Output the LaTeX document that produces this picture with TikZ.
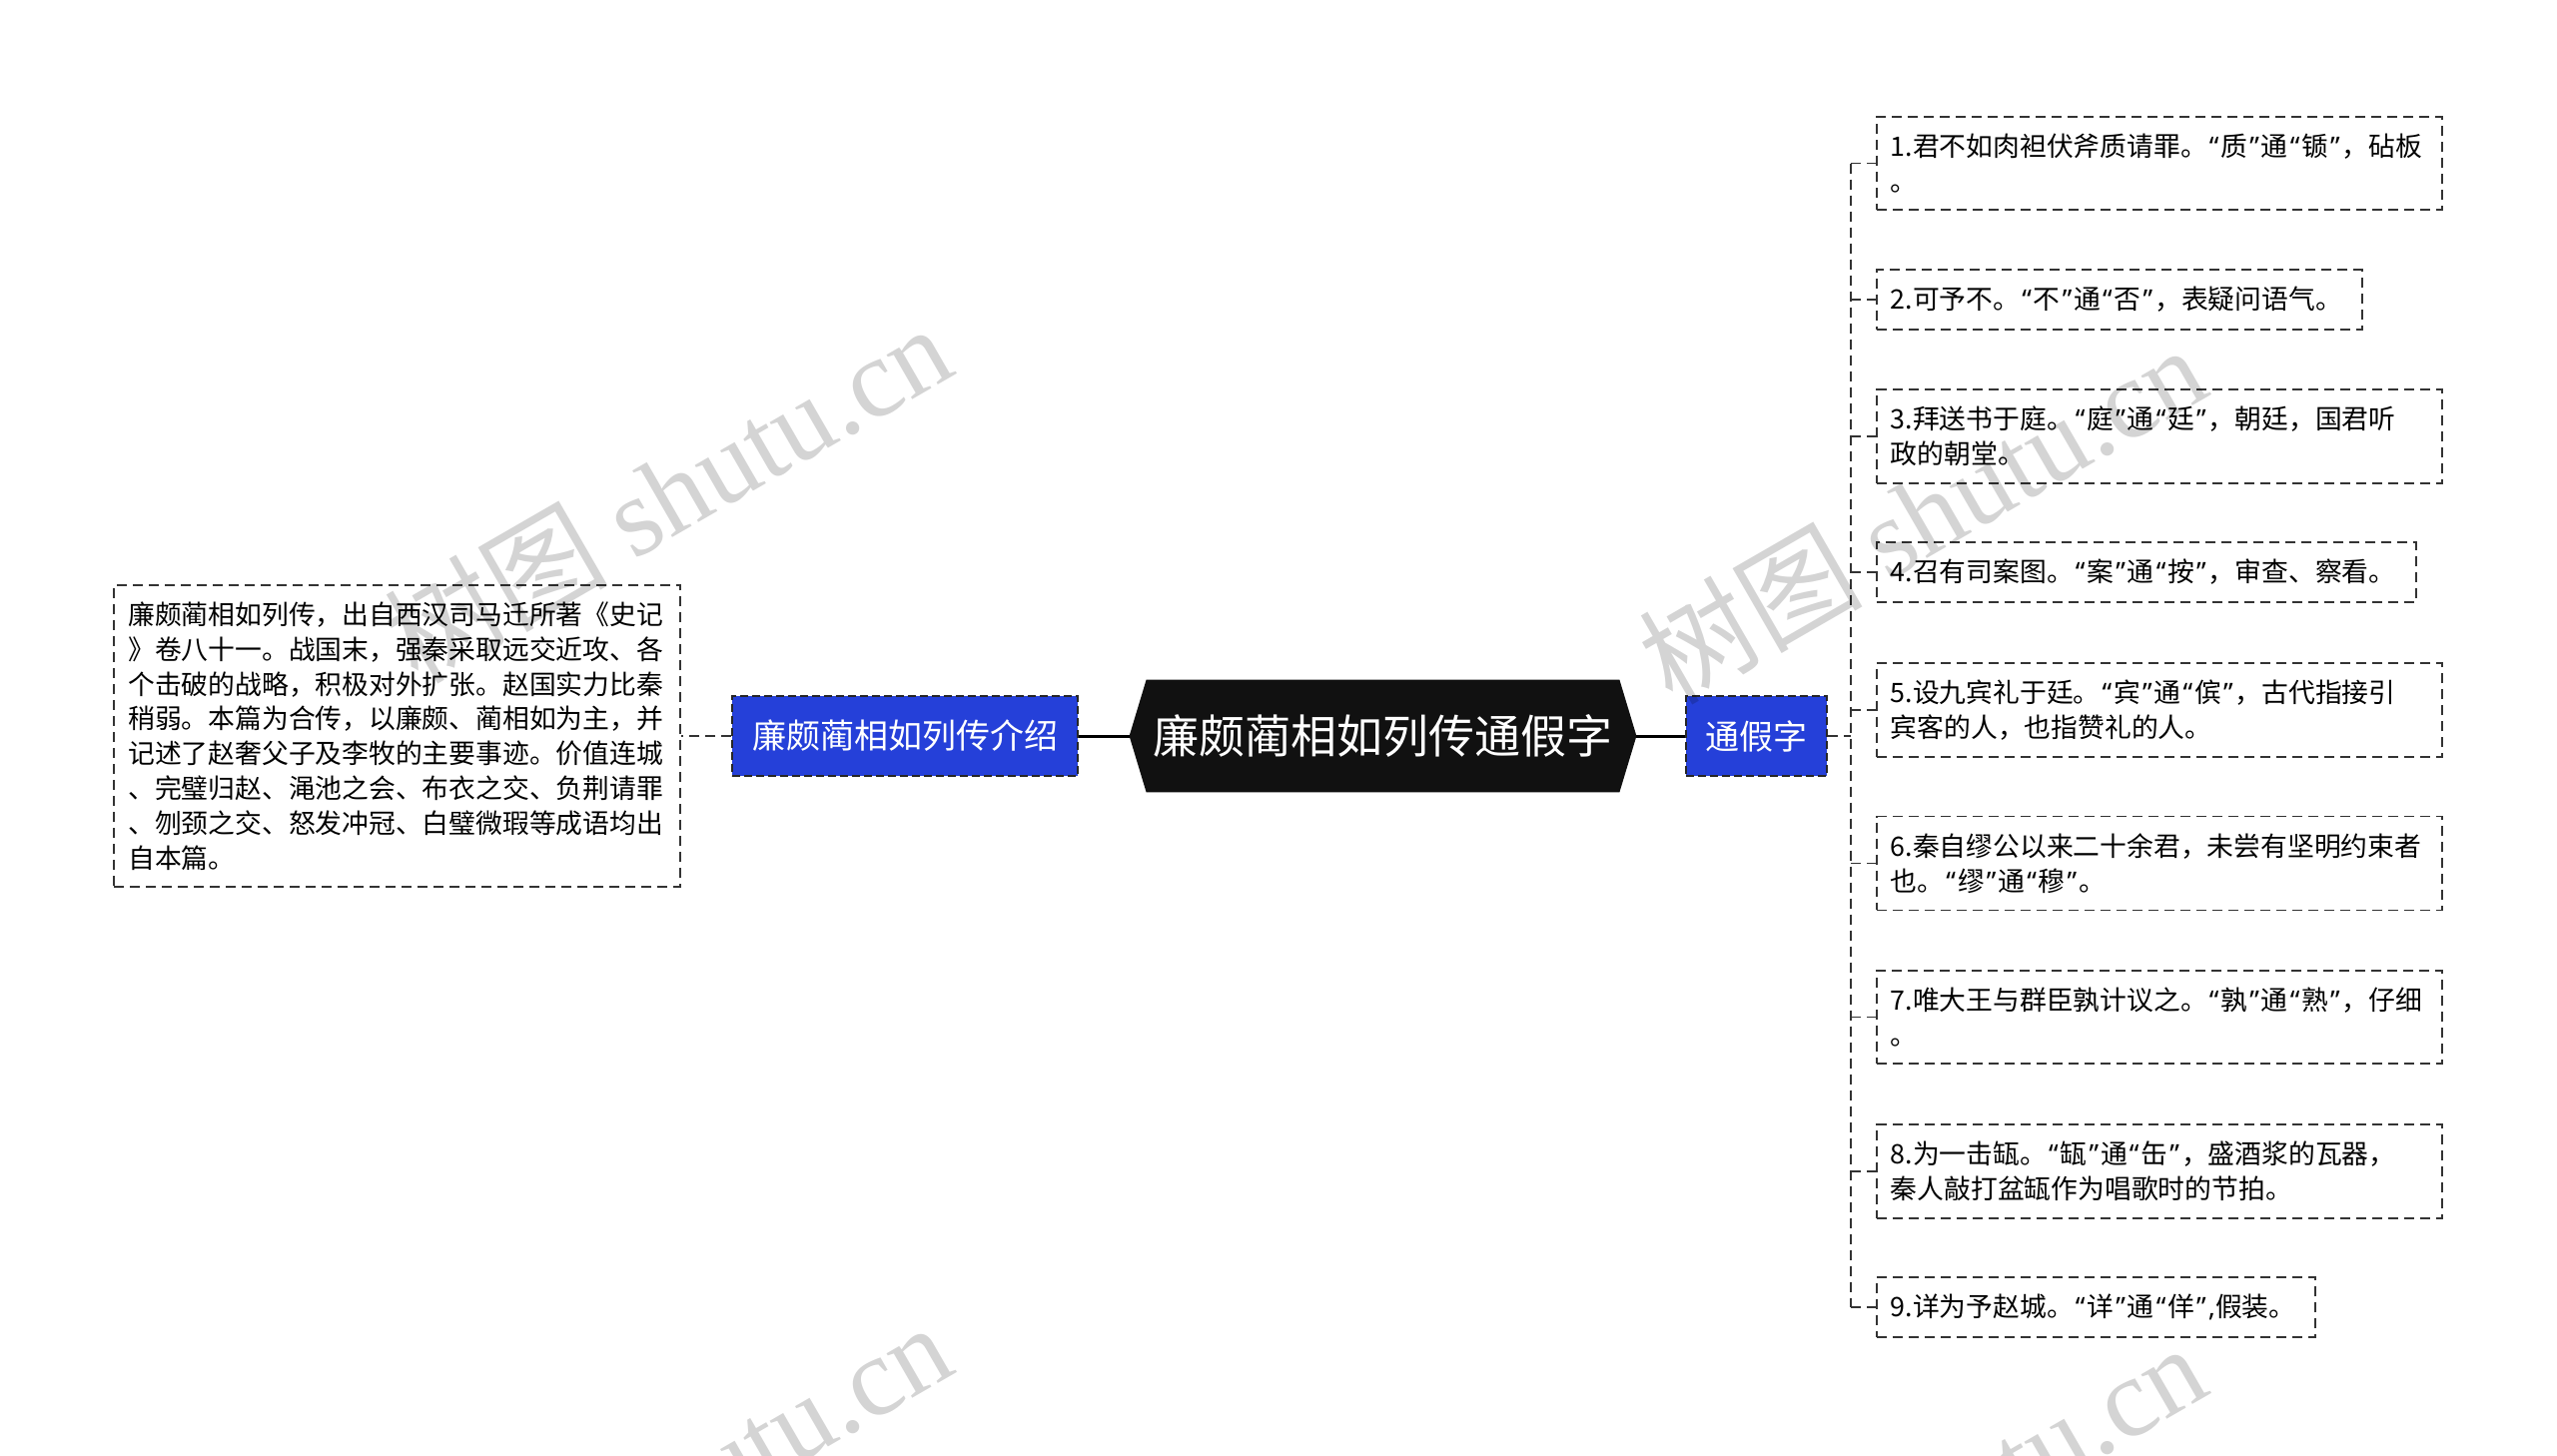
\documentclass[tikz,border=0pt]{standalone}
\usepackage{fontspec}
\setmainfont{Noto Sans CJK SC}
\newfontfamily\qfont{Noto Sans}
\newfontfamily\wmlatin{Liberation Serif}
\usetikzlibrary{calc,backgrounds}
\newcommand\myoq{{\qfont\kern1pt “\kern1pt}}
\newcommand\mycq{{\qfont\kern1pt ”\kern1pt}}
\definecolor{bluebox}{RGB}{37,64,217}
\definecolor{dashc}{RGB}{51,51,51}
\definecolor{centerc}{RGB}{17,17,17}
\begin{document}
\begin{tikzpicture}[x=0.5pt,y=-0.5pt,
  textbox/.style={draw=dashc, line width=0.8pt, dash pattern=on 5pt off 3pt, fill=white,
    inner xsep=7pt, inner ysep=8.5pt, align=left, text width=#1,
    font=\fontsize{13.4pt}{17.4pt}\selectfont},
  bluenode/.style={draw=black!85, line width=1pt, dash pattern=on 4pt off 2pt, fill=bluebox,
    text=white, font=\fontsize{17pt}{20pt}\selectfont, minimum height=40pt, inner xsep=0pt,
    minimum width=#1},
  conn/.style={draw=dashc, line width=0.8pt, dash pattern=on 5pt off 3pt},
  mainconn/.style={draw=black, line width=1.5pt},
  wm/.style={rotate=30, text=black, opacity=0.17, font=\fontsize{56pt}{60pt}\selectfont}
]
\useasboundingbox (0,0) rectangle (2560,1457);

% center
\node[minimum width=253.5pt, minimum height=56pt, inner sep=0pt, text=white,
  font=\fontsize{23pt}{26pt}\selectfont] (c) at (1384.5,737) {廉颇蔺相如列传通假字};
\begin{pgfonlayer}{background}
\fill[white] (0,0) rectangle (2560,1457);
\fill[centerc] ($(c.north west)+(17,0)$) -- ($(c.north east)+(-17,0)$) -- (c.east)
  -- ($(c.south east)+(-17,0)$) -- ($(c.south west)+(17,0)$) -- (c.west) -- cycle;
\end{pgfonlayer}

% blue nodes
\node[bluenode=173pt] (intro) at (906,737) {廉颇蔺相如列传介绍};
\node[bluenode=70.5pt] (tj) at (1758.5,737) {通假字};

% left text
\node[textbox=269.5pt, anchor=east] (desc) at (682,737) {廉颇蔺相如列传，出自西汉司马迁所著《史记\\》卷八十一。战国末，强秦采取远交近攻、各\\个击破的战略，积极对外扩张。赵国实力比秦\\稍弱。本篇为合传，以廉颇、蔺相如为主，并\\记述了赵奢父子及李牧的主要事迹。价值连城\\、完璧归赵、渑池之会、布衣之交、负荆请罪\\、刎颈之交、怒发冲冠、白璧微瑕等成语均出\\自本篇。};

% right boxes
\node[textbox=269pt, anchor=west] (b1) at (1878,163.5) {1.君不如肉袒伏斧质请罪。\myoq 质\mycq 通\myoq 锧\mycq ，砧板\\。};
\node[textbox=229pt, anchor=west] (b2) at (1878,300) {2.可予不。\myoq 不\mycq 通\myoq 否\mycq ，表疑问语气。};
\node[textbox=269pt, anchor=west] (b3) at (1878,437) {3.拜送书于庭。\myoq 庭\mycq 通\myoq 廷\mycq ，朝廷，国君听\\政的朝堂。};
\node[textbox=256pt, anchor=west] (b4) at (1878,573) {4.召有司案图。\myoq 案\mycq 通\myoq 按\mycq ，审查、察看。};
\node[textbox=269pt, anchor=west] (b5) at (1878,711) {5.设九宾礼于廷。\myoq 宾\mycq 通\myoq 傧\mycq ，古代指接引\\宾客的人，也指赞礼的人。};
\node[textbox=269pt, anchor=west] (b6) at (1878,864.5) {6.秦自缪公以来二十余君，未尝有坚明约束者\\也。\myoq 缪\mycq 通\myoq 穆\mycq 。};
\node[textbox=269pt, anchor=west] (b7) at (1878,1018.5) {7.唯大王与群臣孰计议之。\myoq 孰\mycq 通\myoq 熟\mycq ，仔细\\。};
\node[textbox=269pt, anchor=west] (b8) at (1878,1173) {8.为一击缻。\myoq 缻\mycq 通\myoq 缶\mycq ，盛酒浆的瓦器，\\秦人敲打盆缻作为唱歌时的节拍。};
\node[textbox=205.5pt, anchor=west] (b9) at (1878,1309) {9.详为予赵城。\myoq 详\mycq 通\myoq 佯\mycq {\qfont ,}假装。};

% connectors
\draw[mainconn] (c.west) -- (intro.east);
\draw[mainconn] (c.east) -- (tj.west);
\draw[conn] (intro.west) -- (desc.east);
\coordinate (br) at (1853,737);
\draw[conn] (tj.east) -- (br);
\draw[conn] (br |- b1.west) -- (br |- b9.west);
\foreach \b in {b1,b2,b3,b4,b5,b6,b7,b8,b9}{
  \draw[conn] (br |- \b.west) -- (\b.west);
}

% watermarks
\node[wm] (wm1) at (668,493) {树图 {\wmlatin shutu.cn}};
\node[wm] (wm2) at (1924,514) {树图 {\wmlatin shutu.cn}};
\node[wm] (wm3) at (668,1493) {树图 {\wmlatin shutu.cn}};
\node[wm] (wm4) at (1924,1514) {树图 {\wmlatin shutu.cn}};
\end{tikzpicture}
\end{document}
